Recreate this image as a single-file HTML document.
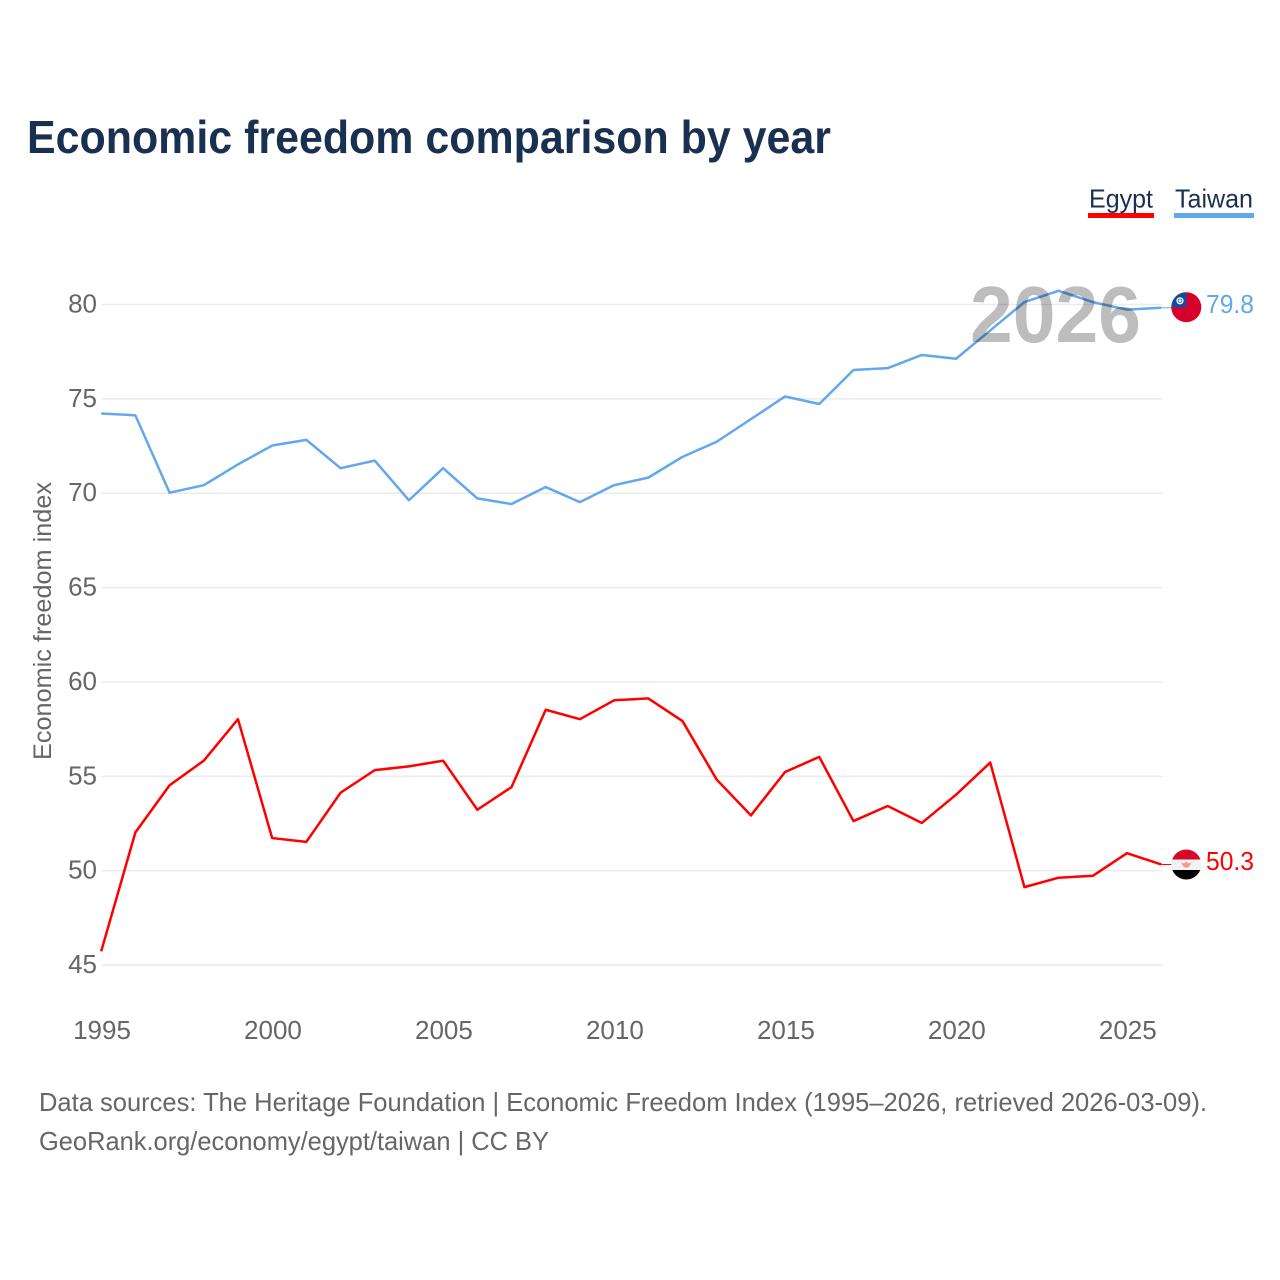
<!DOCTYPE html>
<html lang="en">
<head>
<meta charset="utf-8">
<title>Economic freedom comparison by year</title>
<style>
html,body{margin:0;padding:0;background:#fff;width:1280px;height:1280px;overflow:hidden}
svg{display:block}
text{font-family:"Liberation Sans",sans-serif}
</style>
</head>
<body>
<svg id="chart" width="1280" height="1280" viewBox="0 0 1280 1280" xmlns="http://www.w3.org/2000/svg">
<defs>
<clipPath id="flag-clip-taiwan"><circle cx="1186.3" cy="307.2" r="15"/></clipPath>
<clipPath id="flag-clip-egypt"><circle cx="1186.3" cy="864.5" r="15"/></clipPath>
</defs>
<text x="27" y="153" font-size="46" font-weight="700" fill="#1a3050" textLength="804" lengthAdjust="spacingAndGlyphs">Economic freedom comparison by year</text>

<g>
<g>
<text x="1089" y="207.5" font-size="26" fill="#1a3050" textLength="64" lengthAdjust="spacingAndGlyphs">Egypt</text>
<rect x="1088" y="213" width="66" height="5" fill="#ff0000"/>
</g>
<g>
<text x="1175" y="207.5" font-size="26" fill="#1a3050" textLength="78" lengthAdjust="spacingAndGlyphs">Taiwan</text>
<rect x="1174" y="213" width="80" height="5" fill="#63a7ec"/>
</g>
</g>

<g id="grid"></g>
<g id="y-ticks"></g>
<g id="x-ticks"></g>
<text transform="translate(51,621) rotate(-90)" text-anchor="middle" font-size="25" fill="#666666" textLength="278" lengthAdjust="spacingAndGlyphs">Economic freedom index</text>

<g id="series"></g>

<text x="970" y="342" font-size="80" font-weight="700" fill="#000000" fill-opacity="0.26" textLength="171" lengthAdjust="spacingAndGlyphs">2026</text>

<g id="flag-taiwan" clip-path="url(#flag-clip-taiwan)">
<rect x="1171" y="292" width="31" height="31" fill="#d7002a"/>
<rect x="1171" y="292" width="15.3" height="15.2" fill="#0b4ea2"/>
<circle cx="1180" cy="300.8" r="3.6" fill="#ffffff"/>
<circle cx="1180" cy="300.8" r="2.2" fill="#0b4ea2"/>
<circle cx="1180" cy="300.8" r="1.4" fill="#ffffff"/>
</g>
<g id="flag-egypt" clip-path="url(#flag-clip-egypt)">
<rect x="1171" y="849" width="31" height="11" fill="#d7082a"/>
<rect x="1171" y="859.5" width="31" height="10.5" fill="#f2f2f2"/>
<rect x="1171" y="870" width="31" height="11" fill="#000000"/>
<path d="M1181 862.5l3 1 2.3-2 2.3 2 3-1-2 3.5-1.5 1.5h-3.6l-1.5-1.5z" fill="#f59a8c"/>
</g>

<g id="end-labels"></g>

<g>
<text x="39" y="1111" font-size="26" fill="#666666" textLength="1168" lengthAdjust="spacingAndGlyphs">Data sources: The Heritage Foundation | Economic Freedom Index (1995–2026, retrieved 2026-03-09).</text>
<text x="39" y="1150" font-size="26" fill="#666666" textLength="510" lengthAdjust="spacingAndGlyphs">GeoRank.org/economy/egypt/taiwan | CC BY</text>
</g>
</svg>
<script>
const years = [1995,1996,1997,1998,1999,2000,2001,2002,2003,2004,2005,2006,2007,2008,2009,2010,2011,2012,2013,2014,2015,2016,2017,2018,2019,2020,2021,2022,2023,2024,2025,2026];
const egyptValues = [45.7,52.0,54.5,55.8,58.0,51.7,51.5,54.1,55.3,55.5,55.8,53.2,54.4,58.5,58.0,59.0,59.1,57.9,54.8,52.9,55.2,56.0,52.6,53.4,52.5,54.0,55.7,49.1,49.6,49.7,50.9,50.3];
const taiwanValues = [74.2,74.1,70.0,70.4,71.5,72.5,72.8,71.3,71.7,69.6,71.3,69.7,69.4,70.3,69.5,70.4,70.8,71.9,72.7,73.9,75.1,74.7,76.5,76.6,77.3,77.1,78.6,80.1,80.7,80.1,79.7,79.8];
const yTickLabels = [45,50,55,60,65,70,75,80];
const xTickLabels = [1995,2000,2005,2010,2015,2020,2025];

const NS = 'http://www.w3.org/2000/svg';
const xScale = function (year) { return 101.2 + (year - 1995) * (1161.2 - 101.2) / 31; };
const yScale = function (value) { return 965 + (value - 45) * (304.5 - 965) / 35; };

function make(tag, parent, attrs, content) {
  const node = document.createElementNS(NS, tag);
  Object.keys(attrs).forEach(function (k) { node.setAttribute(k, attrs[k]); });
  if (content !== undefined) node.textContent = content;
  parent.appendChild(node);
  return node;
}

const gridLayer = document.getElementById('grid');
const yLayer = document.getElementById('y-ticks');
yTickLabels.forEach(function (v) {
  const line = make('line', gridLayer, {x1: 102, x2: 1162, y1: yScale(v), y2: yScale(v), stroke: '#ebebeb', 'stroke-width': 1.5});
  
  
  const label = make('text', yLayer, {x: 97, y: yScale(v) + 8, 'text-anchor': 'end', 'font-size': 26, fill: '#666666'}, String(v));
  
  
});

const xLayer = document.getElementById('x-ticks');
xTickLabels.forEach(function (y) {
  const label = make('text', xLayer, {x: xScale(y) + 0.8, y: 1039, 'text-anchor': 'middle', 'font-size': 26, fill: '#666666'}, String(y));
  
  
});

function linePath(values) {
  return values.map(function (v, i) {
    return (i ? 'L' : 'M') + xScale(years[i]).toFixed(2) + ' ' + (yScale(v) - 0.5).toFixed(2);
  }).join('');
}

const seriesLayer = document.getElementById('series');
const labelLayer = document.getElementById('end-labels');

const egyptLine = make('path', seriesLayer, {d: linePath(egyptValues), fill: 'none', stroke: '#ff0000', 'stroke-width': 2.5, 'stroke-linejoin': 'round'});



const taiwanLine = make('path', seriesLayer, {d: linePath(taiwanValues), fill: 'none', stroke: '#63a7ec', 'stroke-width': 2.5, 'stroke-linejoin': 'round'});



const lastEgypt = egyptValues[egyptValues.length - 1];
const lastTaiwan = taiwanValues[taiwanValues.length - 1];
const lastYear = years[years.length - 1];

const egyptConnector = make('line', seriesLayer, {x1: xScale(lastYear), x2: 1172, y1: yScale(lastEgypt) - 0.5, y2: yScale(lastEgypt) - 0.5, stroke: '#ff0000', 'stroke-width': 1});



const taiwanConnector = make('line', seriesLayer, {x1: xScale(lastYear), x2: 1172, y1: yScale(lastTaiwan) - 0.5, y2: yScale(lastTaiwan) - 0.5, stroke: '#63a7ec', 'stroke-width': 1});



const egyptEnd = make('text', labelLayer, {x: 1206, y: yScale(lastEgypt) + 5, 'font-size': 26, fill: '#ff0000', textLength: 48, lengthAdjust: 'spacingAndGlyphs'}, lastEgypt.toFixed(1));



const taiwanEnd = make('text', labelLayer, {x: 1206, y: yScale(lastTaiwan) + 4.5, 'font-size': 26, fill: '#63a7ec', textLength: 48, lengthAdjust: 'spacingAndGlyphs'}, lastTaiwan.toFixed(1));


</script>
</body>
</html>
